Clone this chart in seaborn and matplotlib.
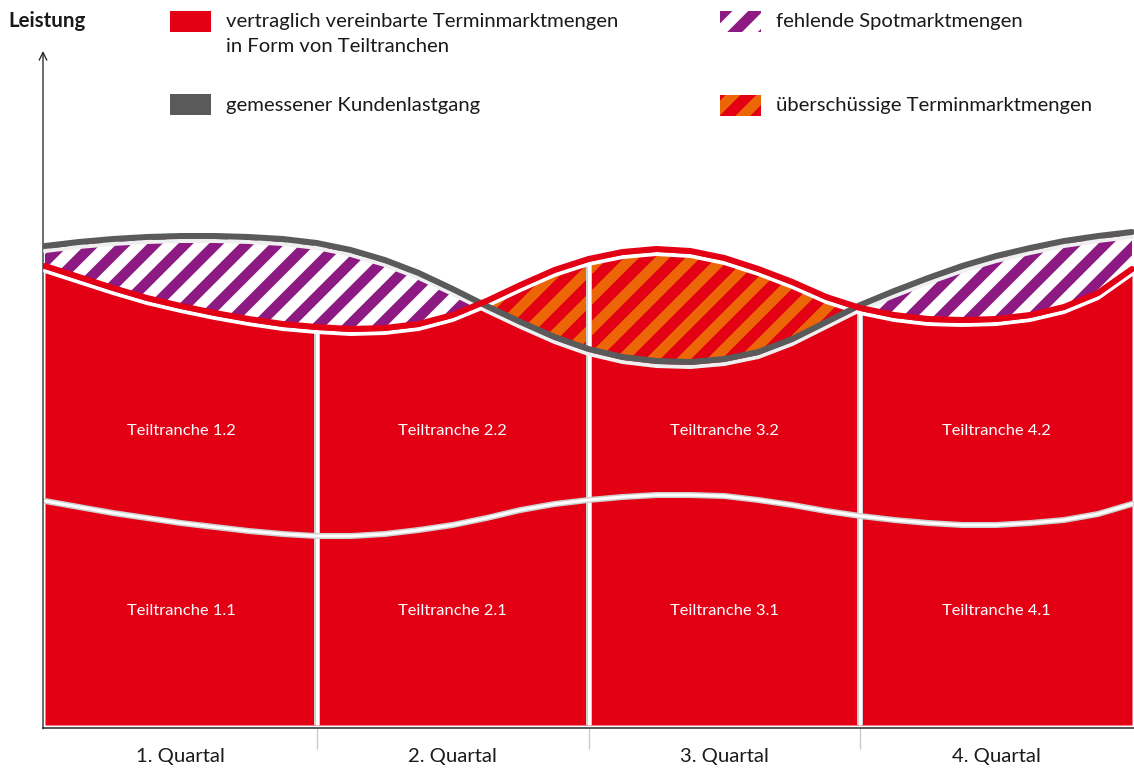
"""
Terminmarkt-Tranchen vs. gemessener Kundenlastgang (schematisch).
"""
import matplotlib.pyplot as plt
from matplotlib.patches import Rectangle
import numpy as np
import pandas as pd
import seaborn as sns

DPI = 92


def px(v):
    """Pixel -> Punkt bei der gewählten Auflösung."""
    return v * 72 / DPI


# ── Style ─────────────────────────────────────────────────────────────────────
sns.set_theme(style="white")
plt.rcParams["font.family"] = ["Lato", "DejaVu Sans"]
plt.rcParams["hatch.linewidth"] = px(10.5)

RED    = "#E30015"
GRAY   = "#5A5A5A"
PURPLE = "#8C1A82"
ORANGE = "#EC6608"
EDGE   = "#CFCFCF"
INK    = "#1A1A1A"

# ── Data (Leistung, schematische Einheiten) ──────────────────────────────────
quartale       = ["1. Quartal", "2. Quartal", "3. Quartal", "4. Quartal"]
tranchen_oben  = ["Teiltranche 1.2", "Teiltranche 2.2", "Teiltranche 3.2", "Teiltranche 4.2"]
tranchen_unten = ["Teiltranche 1.1", "Teiltranche 2.1", "Teiltranche 3.1", "Teiltranche 4.1"]

# Zeitpunkte in Quartalen (Achtelquartal-Raster)
zeit = [0.0, 0.125, 0.25, 0.375, 0.5, 0.625, 0.75, 0.875,
        1.0, 1.125, 1.25, 1.375, 1.5, 1.625, 1.75, 1.875,
        2.0, 2.125, 2.25, 2.375, 2.5, 2.625, 2.75, 2.875,
        3.0, 3.125, 3.25, 3.375, 3.5, 3.625, 3.75, 3.875, 4.0]

# gemessener Kundenlastgang
lastgang = [479, 483, 486, 488, 489, 489, 488, 486,
            482, 475, 465, 452, 436, 419, 403, 388,
            376, 368, 364, 363, 366, 373, 386, 403,
            420, 434, 447, 459, 469, 477, 484, 489, 493]

# vertraglich vereinbarte Terminmarktmengen (Summe beider Teiltranchen)
termin = [459, 448, 437, 427, 419, 412, 406, 401,
          398, 396, 397, 401, 410, 424, 440, 455,
          466, 473, 476, 474, 467, 456, 443, 428,
          417, 410, 406, 405, 406, 410, 418, 432, 456]

# Obergrenze der ersten Teiltranche
tranche1 = [224, 218, 212, 207, 202, 198, 194, 191,
            189, 189, 191, 195, 200, 207, 215, 221,
            225, 228, 230, 230, 229, 225, 220, 214,
            209, 205, 202, 200, 200, 202, 205, 211, 221]

df = pd.DataFrame({"zeit": zeit, "lastgang": lastgang,
                   "termin": termin, "tranche1": tranche1})

# ── Figure ────────────────────────────────────────────────────────────────────
W, H = 1134, 769
fig = plt.figure(figsize=(W / DPI, H / DPI), dpi=DPI)
ax = fig.add_axes([43 / W, 40 / H, (W - 43) / W, 677 / H])

x = df["zeit"].to_numpy()
last = df["lastgang"].to_numpy()
term = df["termin"].to_numpy()

# Teiltranchen (gedeckter Anteil)
ax.fill_between(x, 0, np.minimum(term, last), color=RED, lw=0, zorder=1)

# fehlende Spotmarktmengen
ax.fill_between(x, term, last, where=last >= term, interpolate=True,
                facecolor="white", edgecolor=PURPLE, hatch="/", lw=0, zorder=1)
# überschüssige Terminmarktmengen
ax.fill_between(x, last, term, where=term >= last, interpolate=True,
                facecolor=RED, edgecolor=ORANGE, hatch="/", lw=0, zorder=1)

# Quartalsgrenzen
for q in (1, 2, 3):
    top = np.interp(q, x, term) - 4
    ax.plot([q, q], [0, top], color=EDGE, lw=px(6), solid_capstyle="butt", zorder=2)
    ax.plot([q, q], [0, top], color="white", lw=px(3), solid_capstyle="butt", zorder=2)

# Grenze zwischen Teiltranche x.1 und x.2
sns.lineplot(data=df, x="zeit", y="tranche1", color=EDGE, lw=px(6), ax=ax, zorder=3)
sns.lineplot(data=df, x="zeit", y="tranche1", color="white", lw=px(3), ax=ax, zorder=3)

# weiße Trennlinien unter den Kurven
ax.plot(x, last - 5, color="#EFEFEF", lw=px(4), zorder=4)
ax.plot(x, term - 5, color="white", lw=px(4), zorder=5)

# gemessener Kundenlastgang / Terminmarktmengen
sns.lineplot(data=df, x="zeit", y="lastgang", color=GRAY, lw=px(6), ax=ax, zorder=6)
sns.lineplot(data=df, x="zeit", y="termin", color=RED, lw=px(6), ax=ax, zorder=7)

# Beschriftung der Teiltranchen
for q in range(4):
    ax.text(q + 0.5, 295, tranchen_oben[q], color="white", fontsize=px(16.5),
            ha="center", va="center", zorder=8)
    ax.text(q + 0.5, 115, tranchen_unten[q], color="white", fontsize=px(16.5),
            ha="center", va="center", zorder=8)

# ── Axes ──────────────────────────────────────────────────────────────────────
pad_x = 2 / 271.75
ax.set_xlim(-pad_x, 4 + pad_x)
ax.set_ylim(-3, 674)
ax.set_xlabel("")
ax.set_ylabel("")
ax.set_yticks([])
ax.set_xticks([0.5, 1.5, 2.5, 3.5], quartale)
ax.set_xticks([1, 2, 3], minor=True)
ax.tick_params(axis="x", which="both", bottom=True)
ax.tick_params(axis="x", which="major", length=0, pad=px(19), labelsize=px(20.3),
               labelcolor=INK)
ax.tick_params(axis="x", which="minor", length=px(21), width=px(1.3),
               color="#C8C8C8", direction="out")

for side in ("top", "right", "left"):
    ax.spines[side].set_visible(False)
ax.spines["bottom"].set_color("#333333")
ax.spines["bottom"].set_linewidth(px(1.6))

ax.annotate("", xy=(0, 1), xycoords="axes fraction", xytext=(0, -0.001),
            arrowprops=dict(arrowstyle="->,head_length=0.5,head_width=0.25",
                            lw=px(1.3), color="#222222", shrinkA=0, shrinkB=0))

fig.text(8 / W, 1 - 21 / H, "Leistung", fontsize=px(20.5), fontweight="bold",
         color=INK, va="center", ha="left")

# ── Legende ───────────────────────────────────────────────────────────────────
def _swatch(x0, y0, **kw):
    fig.add_artist(Rectangle((x0 / W, 1 - (y0 + 21) / H), 41 / W, 21 / H,
                             transform=fig.transFigure, lw=0, **kw))

_swatch(170, 12, facecolor=RED)
_swatch(170, 95, facecolor=GRAY)
_swatch(720, 12, facecolor="white", edgecolor=PURPLE, hatch="/")
_swatch(720, 96, facecolor=RED, edgecolor=ORANGE, hatch="/")

legend_kw = dict(fontsize=px(20.3), color=INK, ha="left", va="center")
fig.text(226 / W, 1 - 21 / H, "vertraglich vereinbarte Terminmarktmengen", **legend_kw)
fig.text(226 / W, 1 - 46 / H, "in Form von Teiltranchen", **legend_kw)
fig.text(226 / W, 1 - 105 / H, "gemessener Kundenlastgang", **legend_kw)
fig.text(776 / W, 1 - 21 / H, "fehlende Spotmarktmengen", **legend_kw)
fig.text(776 / W, 1 - 105 / H, "überschüssige Terminmarktmengen", **legend_kw)

fig.savefig("out.png", dpi=DPI)
